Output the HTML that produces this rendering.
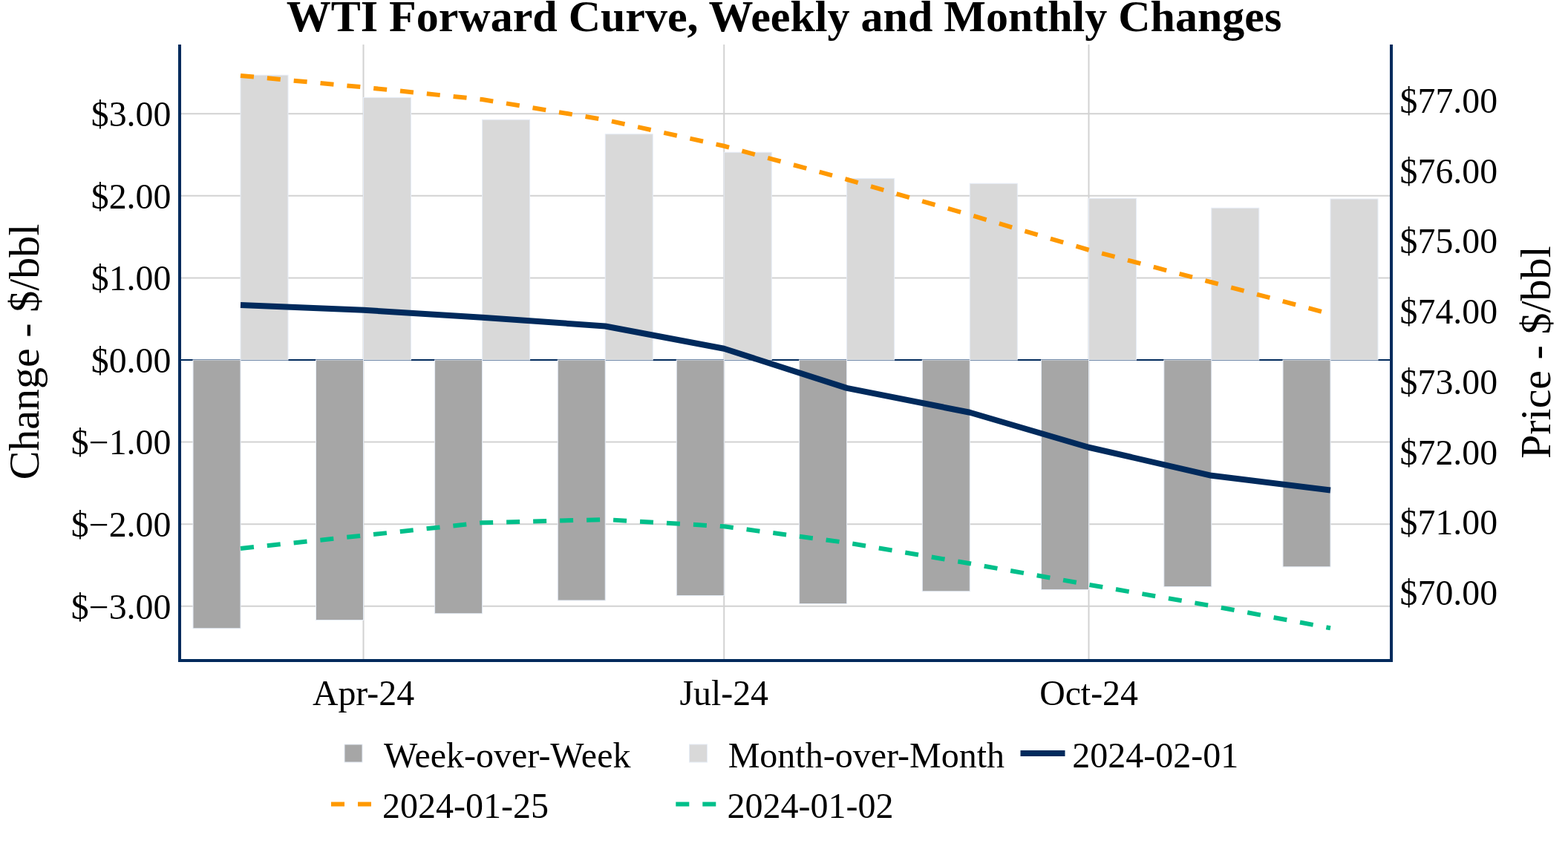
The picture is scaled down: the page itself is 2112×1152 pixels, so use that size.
<!DOCTYPE html>
<html lang="en"><head><meta charset="utf-8"><title>WTI Forward Curve, Weekly and Monthly Changes</title>
<style>html,body{margin:0;padding:0;background:#fff}svg{display:block}text{font-family:"Liberation Serif",serif;fill:#000}</style></head><body>
<svg width="2112" height="1152" viewBox="0 0 2112 1152">
<rect width="2112" height="1152" fill="#fff"/>
<g stroke="#d2d2d2" stroke-width="2" fill="none">
<line x1="489.5" y1="60" x2="489.5" y2="890"/>
<line x1="975.25" y1="60" x2="975.25" y2="890"/>
<line x1="1466.5" y1="60" x2="1466.5" y2="890"/>
<line x1="242" y1="153.14" x2="1874" y2="153.14"/>
<line x1="242" y1="263.76" x2="1874" y2="263.76"/>
<line x1="242" y1="374.38" x2="1874" y2="374.38"/>
<line x1="242" y1="595.62" x2="1874" y2="595.62"/>
<line x1="242" y1="706.24" x2="1874" y2="706.24"/>
<line x1="242" y1="816.86" x2="1874" y2="816.86"/>
</g>
<line x1="242" y1="485.0" x2="1874" y2="485.0" stroke="#002a5c" stroke-width="2"/>
<g stroke="#e5ecf6" stroke-width="1">
<rect x="260.00" y="485.0" width="64.0" height="361.75" fill="#a6a6a6"/>
<rect x="324.00" y="101.25" width="64.0" height="383.75" fill="#d9d9d9"/>
<rect x="425.50" y="485.0" width="64.0" height="350.50" fill="#a6a6a6"/>
<rect x="489.50" y="131.50" width="64.0" height="353.50" fill="#d9d9d9"/>
<rect x="585.60" y="485.0" width="64.0" height="341.75" fill="#a6a6a6"/>
<rect x="649.60" y="161.25" width="64.0" height="323.75" fill="#d9d9d9"/>
<rect x="751.25" y="485.0" width="64.0" height="324.00" fill="#a6a6a6"/>
<rect x="815.25" y="180.75" width="64.0" height="304.25" fill="#d9d9d9"/>
<rect x="911.25" y="485.0" width="64.0" height="317.50" fill="#a6a6a6"/>
<rect x="975.25" y="205.25" width="64.0" height="279.75" fill="#d9d9d9"/>
<rect x="1076.60" y="485.0" width="64.0" height="328.50" fill="#a6a6a6"/>
<rect x="1140.60" y="240.50" width="64.0" height="244.50" fill="#d9d9d9"/>
<rect x="1242.30" y="485.0" width="64.0" height="311.75" fill="#a6a6a6"/>
<rect x="1306.30" y="247.25" width="64.0" height="237.75" fill="#d9d9d9"/>
<rect x="1402.50" y="485.0" width="64.0" height="309.50" fill="#a6a6a6"/>
<rect x="1466.50" y="267.25" width="64.0" height="217.75" fill="#d9d9d9"/>
<rect x="1567.80" y="485.0" width="64.0" height="305.50" fill="#a6a6a6"/>
<rect x="1631.80" y="280.25" width="64.0" height="204.75" fill="#d9d9d9"/>
<rect x="1728.00" y="485.0" width="64.0" height="278.75" fill="#a6a6a6"/>
<rect x="1792.00" y="268.00" width="64.0" height="217.00" fill="#d9d9d9"/>
</g>
<path d="M324.00,411.00 L489.50,417.75 L649.60,427.75 L815.25,439.50 L975.25,469.75 L1140.60,522.90 L1306.30,555.75 L1466.50,602.75 L1631.80,640.80 L1792.00,660.50" fill="none" stroke="#002a5c" stroke-width="8" stroke-linejoin="round"/>
<path d="M324.00,101.90 L489.50,117.50 L649.60,134.00 L815.25,161.50 L975.25,196.75 L1140.60,241.75 L1306.30,289.50 L1466.50,336.75 L1631.80,380.25 L1792.00,423.00" fill="none" stroke="#ff9900" stroke-width="6" stroke-dasharray="18,18"/>
<path d="M324.00,739.00 L489.50,721.50 L649.60,704.25 L815.25,700.00 L975.25,709.25 L1140.60,731.25 L1306.30,759.25 L1466.50,787.75 L1631.80,816.25 L1792.00,846.25" fill="none" stroke="#00bf8a" stroke-width="6" stroke-dasharray="18,18"/>
<g stroke="#002a5c" stroke-width="4" fill="none"><line x1="242" y1="60" x2="242" y2="892"/><line x1="1874" y1="60" x2="1874" y2="892"/><line x1="240" y1="890" x2="1876" y2="890"/></g>
<text x="1056" y="42" text-anchor="middle" font-size="60" font-weight="bold">WTI Forward Curve, Weekly and Monthly Changes</text>
<g font-size="47.8" text-anchor="end">
<text x="230.3" y="170">$3.00</text>
<text x="230.3" y="281">$2.00</text>
<text x="230.3" y="391">$1.00</text>
<text x="230.3" y="502">$0.00</text>
<text x="230.3" y="612">$−1.00</text>
<text x="230.3" y="723">$−2.00</text>
<text x="230.3" y="834">$−3.00</text>
</g>
<g font-size="47.8" text-anchor="start">
<text x="1885.6" y="152">$77.00</text>
<text x="1885.6" y="247">$76.00</text>
<text x="1885.6" y="341">$75.00</text>
<text x="1885.6" y="436">$74.00</text>
<text x="1885.6" y="531">$73.00</text>
<text x="1885.6" y="626">$72.00</text>
<text x="1885.6" y="720">$71.00</text>
<text x="1885.6" y="815">$70.00</text>
</g>
<g font-size="47.8" text-anchor="middle">
<text x="489.5" y="950">Apr-24</text>
<text x="975.25" y="950">Jul-24</text>
<text x="1466.5" y="950">Oct-24</text>
</g>
<text font-size="58" text-anchor="middle" transform="translate(51.5,474) rotate(-90)">Change - $/bbl</text>
<text font-size="58" text-anchor="middle" transform="translate(2087.5,474.7) rotate(-90)">Price - $/bbl</text>
<g font-size="48">
<rect x="464" y="1003" width="24" height="24" fill="#a6a6a6" stroke="#e5ecf6" stroke-width="1"/><text x="517" y="1034">Week-over-Week</text>
<rect x="928.5" y="1003" width="24" height="24" fill="#d9d9d9" stroke="#e5ecf6" stroke-width="1"/><text x="980.7" y="1034">Month-over-Month</text>
<line x1="1374.5" y1="1015" x2="1434.5" y2="1015" stroke="#002a5c" stroke-width="8"/><text x="1444.3" y="1034">2024-02-01</text>
<line x1="446" y1="1083.5" x2="506" y2="1083.5" stroke="#ff9900" stroke-width="6" stroke-dasharray="18,18"/><text x="515" y="1102">2024-01-25</text>
<line x1="910.3" y1="1083.5" x2="970.3" y2="1083.5" stroke="#00bf8a" stroke-width="6" stroke-dasharray="18,18"/><text x="979.5" y="1102">2024-01-02</text>
</g>
</svg></body></html>
